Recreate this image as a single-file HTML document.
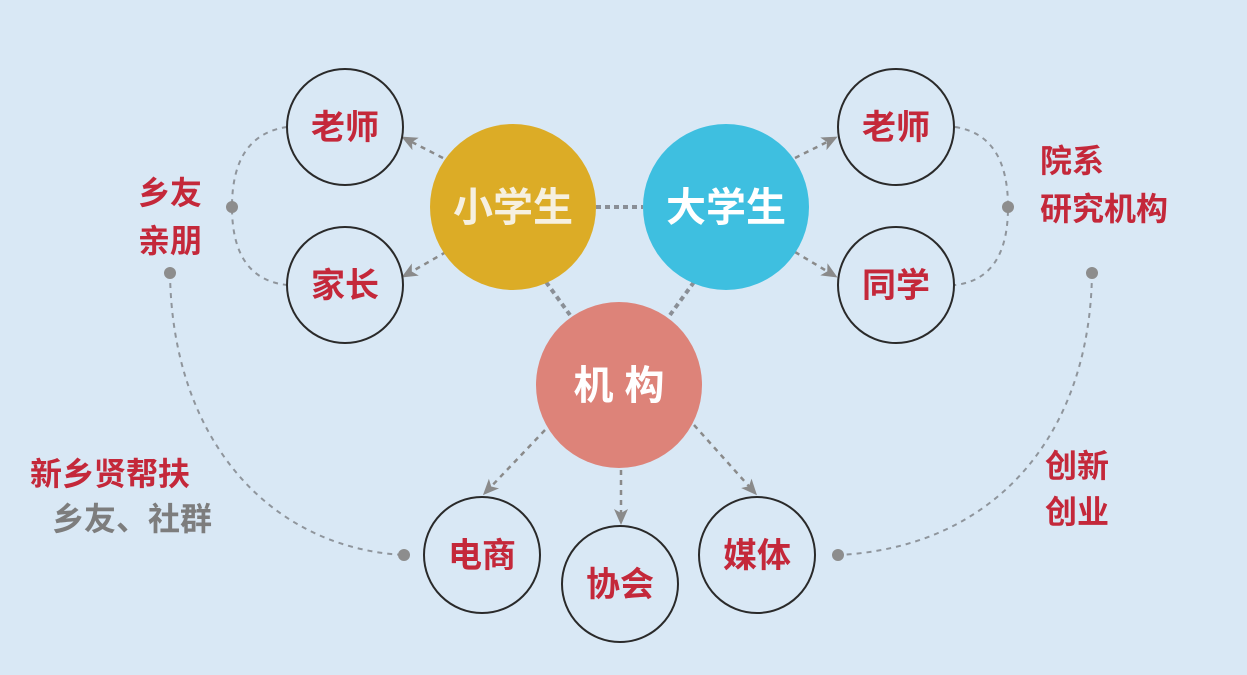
<!DOCTYPE html>
<html><head><meta charset="utf-8"><style>
body{margin:0;width:1247px;height:675px;background:#d9e8f5;overflow:hidden;font-family:"Liberation Sans","Noto Sans CJK SC",sans-serif;}
svg{position:absolute;left:0;top:0}
.t{font-family:"Liberation Sans","Noto Sans CJK SC",sans-serif;font-weight:bold;}
</style></head><body>
<svg width="1247" height="675" viewBox="0 0 1247 675">
<defs><marker id="a" markerWidth="16" markerHeight="16" refX="13" refY="8" orient="auto" markerUnits="userSpaceOnUse"><path d="M0,1 L16,8 L0,15 L4,8z" fill="#8a8a8a"/></marker></defs>
<g fill="none" stroke="#8f959c" stroke-width="2" stroke-dasharray="5,5">
<path d="M287,127 Q232,135 232,207 Q232,279 287,285"/>
<path d="M955,127 Q1008,135 1008,207 Q1008,279 955,285"/>
<path d="M170,273 C172,440 270,548 404,555"/>
<path d="M1092,273 C1090,440 990,548 838,555"/>
</g>
<g stroke="#8a8a8a" stroke-width="2.5" stroke-dasharray="5,5" marker-end="url(#a)">
<line x1="443" y1="158" x2="404" y2="138"/>
<line x1="446" y1="252" x2="404" y2="276"/>
<line x1="795" y1="158" x2="835" y2="138"/>
<line x1="795" y1="252" x2="835" y2="276"/>
<line x1="545" y1="430" x2="485" y2="493"/>
<line x1="621" y1="470" x2="621" y2="522"/>
<line x1="694" y1="425" x2="755" y2="493"/>
</g>
<g stroke="#8a8f96" stroke-width="4" stroke-dasharray="5,4">
<line x1="596" y1="207" x2="643" y2="207"/>
<line x1="546" y1="282" x2="570" y2="315"/>
<line x1="694" y1="282" x2="670" y2="315"/>
</g>
<g fill="#8d8d8d"><circle cx="232" cy="207" r="6"/><circle cx="1008" cy="207" r="6"/><circle cx="170" cy="273" r="6"/><circle cx="1092" cy="273" r="6"/><circle cx="404" cy="555" r="6"/><circle cx="838" cy="555" r="6"/></g>
<circle cx="513" cy="207" r="83" fill="#dcac26"/>
<circle cx="726" cy="207" r="83" fill="#3ebfe0"/>
<circle cx="619" cy="385" r="83" fill="#dd8379"/>
<g fill="#f6f0e0" class="t" font-size="40" text-anchor="middle">
<text x="513" y="221">小学生</text><text x="726" y="221" fill="#fff">大学生</text><text x="619" y="399" fill="#fff">机 构</text>
</g>
<g fill="none" stroke="#2a2a2a" stroke-width="2">
<circle cx="345" cy="127" r="58"/><circle cx="345" cy="285" r="58"/><circle cx="896" cy="127" r="58"/><circle cx="896" cy="285" r="58"/>
<circle cx="482" cy="555" r="58"/><circle cx="620" cy="584" r="58"/><circle cx="757" cy="555" r="58"/>
</g>
<g fill="#c4283a" class="t" font-size="34" text-anchor="middle">
<text x="345" y="139">老师</text><text x="345" y="297">家长</text><text x="896" y="139">老师</text><text x="896" y="297">同学</text>
<text x="482" y="567">电商</text><text x="620" y="596">协会</text><text x="757" y="567">媒体</text>
</g>
<g fill="#c4283a" class="t" font-size="32">
<text x="138" y="204">乡友</text><text x="138" y="252">亲朋</text>
<text x="1040" y="172">院系</text><text x="1040" y="220">研究机构</text>
<text x="30" y="485">新乡贤帮扶</text>
<text x="1045" y="477">创新</text><text x="1045" y="523">创业</text>
</g>
<text x="52" y="530" class="t" font-size="32" fill="#7d7d7d">乡友、社群</text>
</svg>
</body></html>
